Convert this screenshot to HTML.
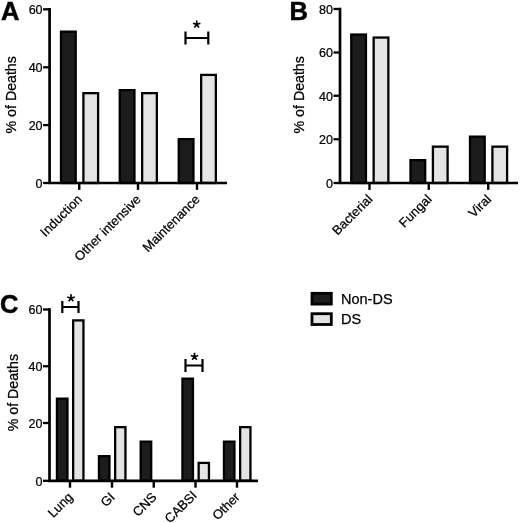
<!DOCTYPE html>
<html><head><meta charset="utf-8"><title>Figure</title>
<style>html,body{margin:0;padding:0;background:#fff;}svg{display:block;will-change:transform;opacity:0.999;}text{font-family:'Liberation Sans', sans-serif;fill:#000;stroke:#000;stroke-width:0.25px;}</style>
</head><body>
<svg width="520" height="523" viewBox="0 0 520 523">
<rect width="520" height="523" fill="#fff"/>
<g id="A">
<rect x="61.00" y="31.65" width="14.70" height="151.35" fill="#1c1c1c" stroke="#000" stroke-width="2.3"/>
<rect x="83.40" y="93.15" width="14.70" height="89.85" fill="#e4e4e4" stroke="#000" stroke-width="2.3"/>
<rect x="119.75" y="90.15" width="14.70" height="92.85" fill="#1c1c1c" stroke="#000" stroke-width="2.3"/>
<rect x="142.15" y="93.15" width="14.70" height="89.85" fill="#e4e4e4" stroke="#000" stroke-width="2.3"/>
<rect x="178.75" y="139.15" width="14.70" height="43.85" fill="#1c1c1c" stroke="#000" stroke-width="2.3"/>
<rect x="201.15" y="74.90" width="14.70" height="108.10" fill="#e4e4e4" stroke="#000" stroke-width="2.3"/>
<path d="M49.6 8.1 V183 H227" fill="none" stroke="#000" stroke-width="2.7" stroke-linejoin="miter"/>
<line x1="43.1" y1="9.3" x2="49.6" y2="9.3" stroke="#000" stroke-width="2.3"/>
<text transform="translate(42.60,14.10) scale(0.93,1)" text-anchor="end" font-size="13.5">60</text>
<line x1="43.1" y1="67.3" x2="49.6" y2="67.3" stroke="#000" stroke-width="2.3"/>
<text transform="translate(42.60,72.10) scale(0.93,1)" text-anchor="end" font-size="13.5">40</text>
<line x1="43.1" y1="125.1" x2="49.6" y2="125.1" stroke="#000" stroke-width="2.3"/>
<text transform="translate(42.60,129.90) scale(0.93,1)" text-anchor="end" font-size="13.5">20</text>
<line x1="43.1" y1="183" x2="49.6" y2="183" stroke="#000" stroke-width="2.3"/>
<text transform="translate(42.60,187.80) scale(0.93,1)" text-anchor="end" font-size="13.5">0</text>
<line x1="79.25" y1="183" x2="79.25" y2="189.9" stroke="#000" stroke-width="2.4"/>
<text transform="translate(79.75,196.90) rotate(-45)" text-anchor="end" font-size="13" y="4.5">Induction</text>
<line x1="138" y1="183" x2="138" y2="189.9" stroke="#000" stroke-width="2.4"/>
<text transform="translate(138.50,196.90) rotate(-45)" text-anchor="end" font-size="13" y="4.5">Other intensive</text>
<line x1="197" y1="183" x2="197" y2="189.9" stroke="#000" stroke-width="2.4"/>
<text transform="translate(197.50,196.90) rotate(-45)" text-anchor="end" font-size="13" y="4.5">Maintenance</text>
<text x="1" y="20" font-size="25.5" font-weight="bold" style="stroke-width:0.5px">A</text>
<text transform="translate(15.7,94.8) rotate(-90)" text-anchor="middle" font-size="14.2">% of Deaths</text>
<path d="M185.5 31.4 V44.6 M208.3 31.4 V44.6 M185.5 38 H208.3" stroke="#000" stroke-width="2.2" fill="none"/><path d="M196.70 24.40 L196.70 20.50 M196.70 24.40 L200.41 23.19 M196.70 24.40 L198.99 27.56 M196.70 24.40 L194.41 27.56 M196.70 24.40 L192.99 23.19" stroke="#000" stroke-width="1.7" fill="none"/>
</g>
<g id="B">
<rect x="351.25" y="34.55" width="14.70" height="148.45" fill="#1c1c1c" stroke="#000" stroke-width="2.3"/>
<rect x="373.65" y="37.55" width="14.70" height="145.45" fill="#e4e4e4" stroke="#000" stroke-width="2.3"/>
<rect x="410.50" y="160.15" width="14.70" height="22.85" fill="#1c1c1c" stroke="#000" stroke-width="2.3"/>
<rect x="432.90" y="146.65" width="14.70" height="36.35" fill="#e4e4e4" stroke="#000" stroke-width="2.3"/>
<rect x="470.00" y="136.65" width="14.70" height="46.35" fill="#1c1c1c" stroke="#000" stroke-width="2.3"/>
<rect x="492.40" y="146.65" width="14.70" height="36.35" fill="#e4e4e4" stroke="#000" stroke-width="2.3"/>
<path d="M340 7.8 V183 H518" fill="none" stroke="#000" stroke-width="2.7" stroke-linejoin="miter"/>
<line x1="333.5" y1="9" x2="340" y2="9" stroke="#000" stroke-width="2.3"/>
<text transform="translate(333.00,13.80) scale(0.93,1)" text-anchor="end" font-size="13.5">80</text>
<line x1="333.5" y1="52.5" x2="340" y2="52.5" stroke="#000" stroke-width="2.3"/>
<text transform="translate(333.00,57.30) scale(0.93,1)" text-anchor="end" font-size="13.5">60</text>
<line x1="333.5" y1="95.75" x2="340" y2="95.75" stroke="#000" stroke-width="2.3"/>
<text transform="translate(333.00,100.55) scale(0.93,1)" text-anchor="end" font-size="13.5">40</text>
<line x1="333.5" y1="139.25" x2="340" y2="139.25" stroke="#000" stroke-width="2.3"/>
<text transform="translate(333.00,144.05) scale(0.93,1)" text-anchor="end" font-size="13.5">20</text>
<line x1="333.5" y1="183" x2="340" y2="183" stroke="#000" stroke-width="2.3"/>
<text transform="translate(333.00,187.80) scale(0.93,1)" text-anchor="end" font-size="13.5">0</text>
<line x1="369.5" y1="183" x2="369.5" y2="189.9" stroke="#000" stroke-width="2.4"/>
<text transform="translate(370.00,196.90) rotate(-45)" text-anchor="end" font-size="13" y="4.5">Bacterial</text>
<line x1="428.75" y1="183" x2="428.75" y2="189.9" stroke="#000" stroke-width="2.4"/>
<text transform="translate(429.25,196.90) rotate(-45)" text-anchor="end" font-size="13" y="4.5">Fungal</text>
<line x1="488.25" y1="183" x2="488.25" y2="189.9" stroke="#000" stroke-width="2.4"/>
<text transform="translate(488.75,196.90) rotate(-45)" text-anchor="end" font-size="13" y="4.5">Viral</text>
<text x="289.6" y="20" font-size="25.5" font-weight="bold" style="stroke-width:0.5px">B</text>
<text transform="translate(303.9,94.8) rotate(-90)" text-anchor="middle" font-size="14.2">% of Deaths</text>
</g>
<g id="C">
<rect x="56.95" y="398.65" width="10.50" height="82.15" fill="#1c1c1c" stroke="#000" stroke-width="2.3"/>
<rect x="73.15" y="320.40" width="10.30" height="160.40" fill="#e4e4e4" stroke="#000" stroke-width="2.3"/>
<rect x="98.95" y="456.15" width="10.50" height="24.65" fill="#1c1c1c" stroke="#000" stroke-width="2.3"/>
<rect x="115.15" y="427.15" width="10.30" height="53.65" fill="#e4e4e4" stroke="#000" stroke-width="2.3"/>
<rect x="140.70" y="441.65" width="10.50" height="39.15" fill="#1c1c1c" stroke="#000" stroke-width="2.3"/>
<rect x="182.45" y="378.65" width="10.50" height="102.15" fill="#1c1c1c" stroke="#000" stroke-width="2.3"/>
<rect x="198.65" y="462.90" width="10.30" height="17.90" fill="#e4e4e4" stroke="#000" stroke-width="2.3"/>
<rect x="223.95" y="441.65" width="10.50" height="39.15" fill="#1c1c1c" stroke="#000" stroke-width="2.3"/>
<rect x="240.15" y="427.15" width="10.30" height="53.65" fill="#e4e4e4" stroke="#000" stroke-width="2.3"/>
<path d="M49.5 308.3 V480.8 H258" fill="none" stroke="#000" stroke-width="2.7" stroke-linejoin="miter"/>
<line x1="43.0" y1="309.5" x2="49.5" y2="309.5" stroke="#000" stroke-width="2.3"/>
<text transform="translate(42.50,314.30) scale(0.93,1)" text-anchor="end" font-size="13.5">60</text>
<line x1="43.0" y1="366.25" x2="49.5" y2="366.25" stroke="#000" stroke-width="2.3"/>
<text transform="translate(42.50,371.05) scale(0.93,1)" text-anchor="end" font-size="13.5">40</text>
<line x1="43.0" y1="423" x2="49.5" y2="423" stroke="#000" stroke-width="2.3"/>
<text transform="translate(42.50,427.80) scale(0.93,1)" text-anchor="end" font-size="13.5">20</text>
<line x1="43.0" y1="480.8" x2="49.5" y2="480.8" stroke="#000" stroke-width="2.3"/>
<text transform="translate(42.50,485.60) scale(0.93,1)" text-anchor="end" font-size="13.5">0</text>
<line x1="70" y1="480.8" x2="70" y2="487.7" stroke="#000" stroke-width="2.4"/>
<text transform="translate(70.50,494.70) rotate(-45)" text-anchor="end" font-size="13" y="4.5">Lung</text>
<line x1="112" y1="480.8" x2="112" y2="487.7" stroke="#000" stroke-width="2.4"/>
<text transform="translate(112.50,494.70) rotate(-45)" text-anchor="end" font-size="13" y="4.5">GI</text>
<line x1="153.75" y1="480.8" x2="153.75" y2="487.7" stroke="#000" stroke-width="2.4"/>
<text transform="translate(154.25,494.70) rotate(-45)" text-anchor="end" font-size="13" y="4.5">CNS</text>
<line x1="195.5" y1="480.8" x2="195.5" y2="487.7" stroke="#000" stroke-width="2.4"/>
<text transform="translate(194.40,493.10) rotate(-45)" text-anchor="end" font-size="13" y="4.5">CABSI</text>
<line x1="237" y1="480.8" x2="237" y2="487.7" stroke="#000" stroke-width="2.4"/>
<text transform="translate(237.50,494.70) rotate(-45)" text-anchor="end" font-size="13" y="4.5">Other</text>
<text x="0" y="312.7" font-size="25.5" font-weight="bold" style="stroke-width:0.5px">C</text>
<text transform="translate(17.6,392.6) rotate(-90)" text-anchor="middle" font-size="14.2">% of Deaths</text>
<path d="M62.3 301.1 V312.9 M78.5 301.1 V312.9 M62.3 307 H78.5" stroke="#000" stroke-width="2.2" fill="none"/><path d="M71.00 298.20 L71.00 294.30 M71.00 298.20 L74.71 296.99 M71.00 298.20 L73.29 301.36 M71.00 298.20 L68.71 301.36 M71.00 298.20 L67.29 296.99" stroke="#000" stroke-width="1.7" fill="none"/>
<path d="M185.5 358.9 V372.1 M202.5 358.9 V372.1 M185.5 365.5 H202.5" stroke="#000" stroke-width="2.2" fill="none"/><path d="M194.50 356.70 L194.50 352.80 M194.50 356.70 L198.21 355.49 M194.50 356.70 L196.79 359.86 M194.50 356.70 L192.21 359.86 M194.50 356.70 L190.79 355.49" stroke="#000" stroke-width="1.7" fill="none"/>
</g>
<g id="legend">
<rect x="312.0" y="293.3" width="19.3" height="10.8" fill="#1c1c1c" stroke="#000" stroke-width="2.8"/>
<rect x="312.0" y="313.7" width="19.3" height="10.8" fill="#e4e4e4" stroke="#000" stroke-width="2.8"/>
<text x="341" y="304" font-size="14.5">Non-DS</text>
<text x="341" y="324.2" font-size="14.5">DS</text>
</g>
</svg></body></html>
